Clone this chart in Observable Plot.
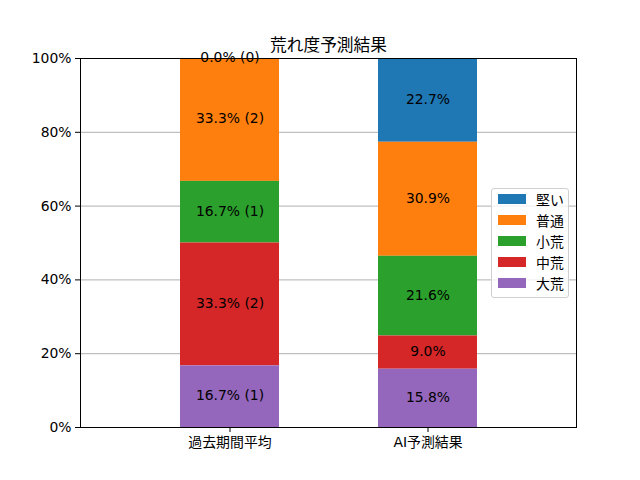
<!DOCTYPE html>
<html>
<head>
<meta charset="utf-8">
<script src="https://cdn.jsdelivr.net/npm/d3@7"></script>
<script src="https://cdn.jsdelivr.net/npm/@observablehq/plot@0.6"></script>
<style>
  body { margin: 0; background: #fff; }
  #wrap { position: relative; width: 640px; height: 480px; font-family: "DejaVu Sans", "Noto Sans CJK JP", sans-serif; }
  #legend { position: absolute; left: 491px; top: 188px; width: 78px; height: 110px; box-sizing: border-box;
    border: 1px solid #d0d0d0; border-radius: 3px; background: rgba(255,255,255,0.8); padding: 0 0 0 6px; }
  .item { display: flex; align-items: center; height: 21.2px; font-size: 13.9px; color: #000; }
  .item:first-child { margin-top: -1px; }
  .sw { width: 28px; height: 10px; margin-right: 10px; }
</style>
</head>
<body>
<div id="wrap"><div id="chart"></div><div id="legend"></div></div>
<script>
const categories = ["過去期間平均", "AI予測結果"];
const levels = ["堅い", "普通", "小荒", "中荒", "大荒"];           // legend order (top to bottom)
const stackOrder = ["大荒", "中荒", "小荒", "普通", "堅い"];       // bottom to top
const colors = ["#1f77b4", "#ff7f0e", "#2ca02c", "#d62728", "#9467bd"];
const pastPct = [0.0, 33.3, 16.7, 33.3, 16.7];
const pastCount = [0, 2, 1, 2, 1];
const aiPct = [22.7, 30.9, 21.6, 9.0, 15.8];
const yTicks = [0, 20, 40, 60, 80, 100];
const title = "荒れ度予測結果";

const rows = [];
levels.forEach((lv, i) => {
  rows.push({cat: categories[0], level: lv, value: pastPct[i], label: `${pastPct[i].toFixed(1)}% (${pastCount[i]})`});
  rows.push({cat: categories[1], level: lv, value: aiPct[i], label: `${aiPct[i].toFixed(1)}%`});
});

const font = "DejaVu Sans, Noto Sans CJK JP, sans-serif";
const chart = Plot.plot({
  width: 640,
  height: 480,
  marginLeft: 80,
  marginRight: 64,
  marginTop: 58,
  marginBottom: 53,
  style: {fontSize: "13.9px", fontFamily: font, color: "#000", background: "#fff"},
  x: {domain: categories, paddingInner: 0.5, paddingOuter: 0.5, label: null},
  y: {domain: [0, 100], label: null},
  color: {domain: levels, range: colors},
  marks: [
    Plot.gridY(yTicks, {stroke: "#b0b0b0", strokeOpacity: 1, strokeWidth: 1}),
    Plot.barY(rows, Plot.stackY({x: "cat", y: "value", z: "level", fill: "level", order: stackOrder})),
    Plot.text(rows, Plot.stackY({x: "cat", y: "value", z: "level", order: stackOrder, text: "label", fill: "#000", fontSize: 13.9, dy: -1})),
    Plot.frame({stroke: "#000", strokeWidth: 1}),
    Plot.axisY(yTicks, {tickFormat: d => d + "%", tickSize: 5, tickPadding: 4, label: null, fontSize: 13.9}),
    Plot.axisX({tickSize: 5, tickPadding: 5, label: null, fontSize: 13.9}),
    Plot.text([title], {frameAnchor: "top", dy: -19, fontSize: 16.7, fill: "#000"})
  ]
});
document.getElementById("chart").appendChild(chart);

const leg = document.getElementById("legend");
levels.forEach((lv, i) => {
  const it = document.createElement("div");
  it.className = "item";
  it.innerHTML = `<span class="sw" style="background:${colors[i]}"></span><span>${lv}</span>`;
  leg.appendChild(it);
});
</script>
</body>
</html>
